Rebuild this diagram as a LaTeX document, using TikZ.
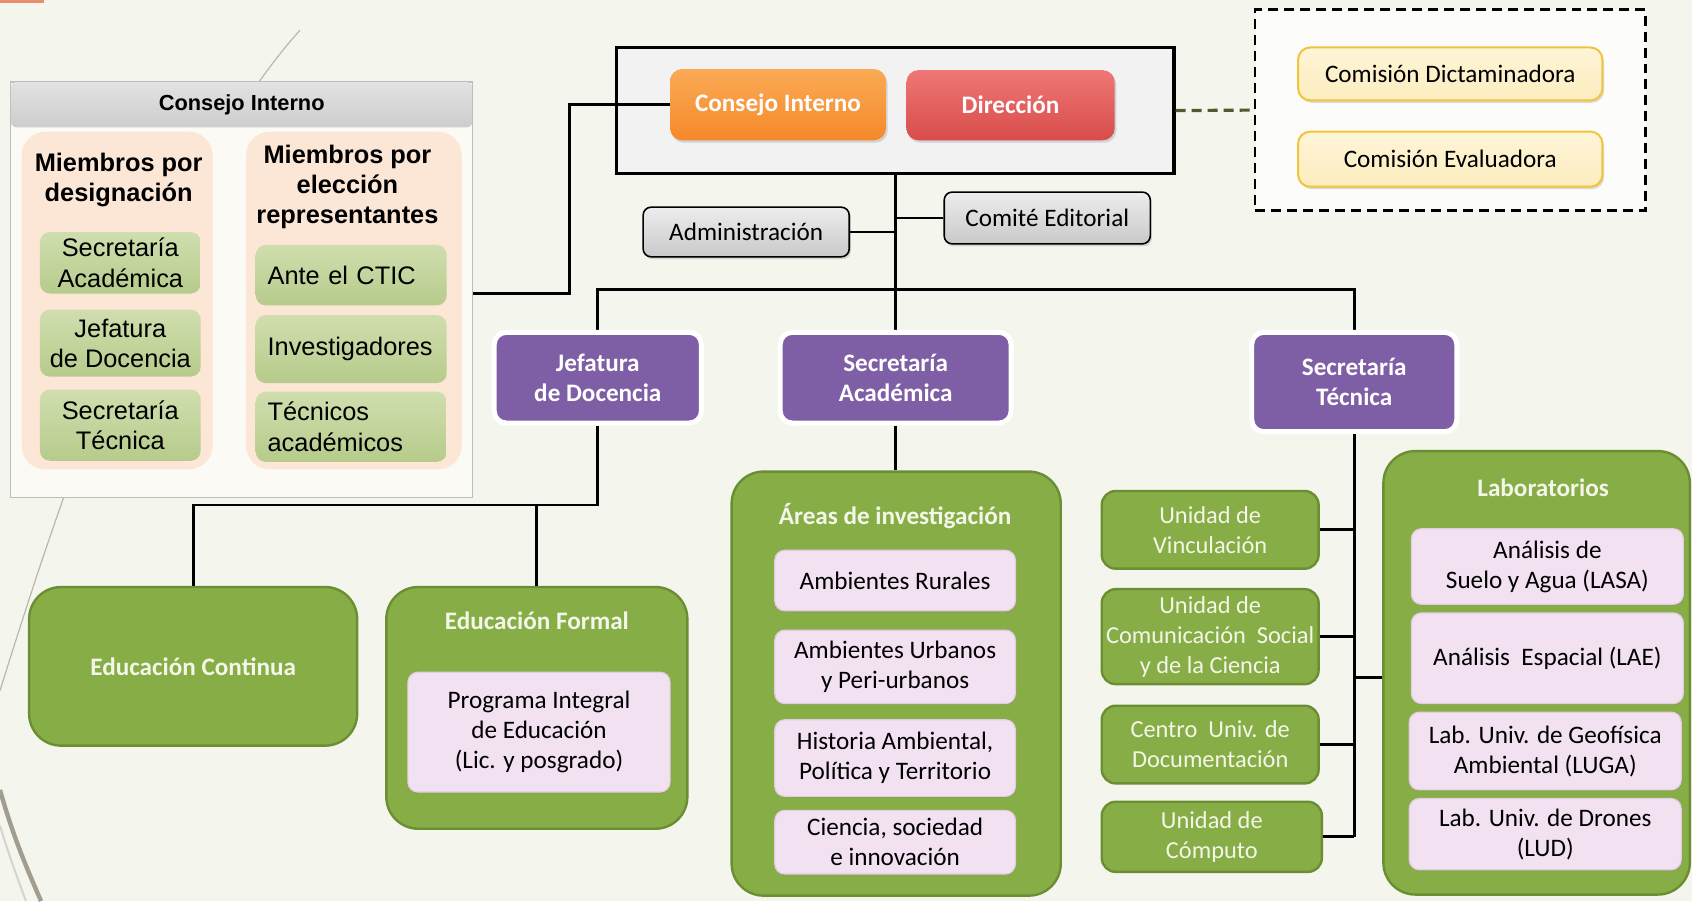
\documentclass[tikz,border=0pt]{standalone}
\usepackage{fontspec}
\setmainfont{Carlito}
\newfontfamily\arialf{Liberation Sans}
\usetikzlibrary{shadows}
\definecolor{bgc}{HTML}{F4F6EE}
\definecolor{framef}{HTML}{F2F2F2}
\definecolor{orgT}{HTML}{FBAA55}
\definecolor{orgB}{HTML}{F5892A}
\definecolor{redT}{HTML}{EE7775}
\definecolor{redB}{HTML}{D84C4A}
\definecolor{grayT}{HTML}{EDEDED}
\definecolor{grayB}{HTML}{C9C9C9}
\definecolor{comF}{HTML}{FDEDBE}
\definecolor{comD}{HTML}{F2C43A}
\definecolor{purp}{HTML}{7E5FA6}
\definecolor{grn}{HTML}{87AD47}
\definecolor{grnD}{HTML}{6C8E33}
\definecolor{pinkF}{HTML}{F2E1F1}
\definecolor{pinkD}{HTML}{E3CDE1}
\definecolor{panF}{HTML}{FBFAF4}
\definecolor{panD}{HTML}{BDBDBD}
\definecolor{hdrT}{HTML}{E2E2E2}
\definecolor{hdrB}{HTML}{CDCDCD}
\definecolor{peach}{HTML}{FCE6D6}
\definecolor{pgT}{HTML}{D0DEAE}
\definecolor{pgB}{HTML}{B6CB8B}
\definecolor{lightT}{HTML}{F4F6E8}
\definecolor{dashc}{HTML}{4F5A2E}
\definecolor{arcc}{HTML}{A39D90}
\definecolor{salmon}{HTML}{E58F6F}
\begin{document}
\begin{tikzpicture}[x=0.54pt,y=-0.54pt,
  wh/.style 2 args={minimum width=#1*0.54pt, minimum height=#2*0.54pt},
  base/.style={inner sep=0pt, align=center, font=\fontsize{12.6}{15}\selectfont},
  conn/.style={draw=black, line width=1.4pt},
  shad/.style={drop shadow={shadow xshift=0.8pt, shadow yshift=-1.2pt, opacity=0.28}},
  graybox/.style={base, rounded corners=4pt, draw=black, line width=0.8pt, top color=grayT, bottom color=grayB, shad},
  topbox/.style={base, rounded corners=6pt, text=white, font=\bfseries\fontsize{12.6}{15}\selectfont, shad},
  combox/.style={base, rounded corners=6pt, draw=comD, line width=1pt, top color=comF!60!white, bottom color=comF, shad},
  purpbox/.style={base, rounded corners=6pt, fill=purp, draw=white, line width=2.5pt, text=white, font=\bfseries\fontsize{12.6}{15}\selectfont, drop shadow={shadow xshift=0.6pt, shadow yshift=-1pt, opacity=0.25}},
  bigbox/.style={base, rounded corners=16pt, fill=grn, draw=grnD, line width=1.2pt},
  unitbox/.style={base, rounded corners=7pt, fill=grn, draw=grnD, line width=1.2pt, text=lightT, font=\fontsize{12.2}{15}\selectfont},
  gtitle/.style={base, text=lightT, font=\bfseries\fontsize{12.6}{15}\selectfont},
  pinkbox/.style={base, rounded corners=5pt, fill=pinkF, draw=pinkD, line width=0.6pt, drop shadow={shadow xshift=0.5pt, shadow yshift=-0.8pt, opacity=0.2}},
  pfont/.style={font=\arialf\fontsize{12.7}{15.1}\selectfont},
  pbox/.style={base, pfont, rounded corners=5pt, top color=pgT, bottom color=pgB},
  ptitle/.style={base, font=\arialf\bfseries\fontsize{12.7}{15.1}\selectfont}
]
\useasboundingbox (0,0) rectangle (1568,835);
\fill[bgc] (0,0) rectangle (1568,835);
% decorative theme lines
\fill[salmon] (0,0) rectangle (41,2.5);
\draw[arcc!75, line width=0.6pt] (278,28) .. controls (150,170) and (50,480) .. (0,640);
\draw[arcc, line width=2.2pt] (0,732) .. controls (12,775) and (25,805) .. (38,835);
\draw[arcc!45, line width=1pt] (0,765) .. controls (8,792) and (16,813) .. (24,835);

% ===== Consejo Interno panel =====
\node[base, wh={428}{385}, fill=panF, draw=panD, line width=0.6pt] (ci) at (224,268.5) {};
\node[base, wh={428}{42}, top color=hdrT, bottom color=hdrB, rounded corners=3pt, font=\arialf\bfseries\fontsize{10.9}{13}\selectfont] (cih) at (224,97) {Consejo Interno};
\node[base, wh={177}{313}, fill=peach, rounded corners=12pt] (colL) at (108.5,278.5) {};
\node[base, wh={200}{313}, fill=peach, rounded corners=12pt] (colR) at (328,278.5) {};
\node[ptitle] (ttlL) at (110,167) {Miembros por\\designación};
\node[ptitle] (ttlR) at (322,173) {Miembros por\\elección\\representantes};
\node[pbox, wh={149}{57}] (pl1) at (111.5,243.5) {Secretaría\\Académica};
\node[pbox, wh={149}{62}] (pl2) at (111.5,318) {Jefatura\\de Docencia};
\node[pbox, wh={149}{66}] (pl3) at (111.5,394) {Secretaría\\Técnica};
\node[pbox, wh={177}{56}, text width=155*0.54pt, align=left] (pr1) at (325.5,255) {Ante el CTIC};
\node[pbox, wh={177}{63}, text width=155*0.54pt, align=left] (pr2) at (325.5,323.5) {Investigadores};
\node[pbox, wh={177}{65}, text width=155*0.54pt, align=left] (pr3) at (325.5,395.5) {Técnicos\\académicos};

% ===== connector layer =====
\coordinate (ciK) at (528,272);
\coordinate (bus) at (829.5,268);
\coordinate (jdK) at (555,468);

% top frame
\node[base, wh={517}{117}, fill=framef, draw=black, line width=1.6pt] (top) at (829.5,102.5) {};
\node[base, wh={362}{186}, fill=white!70!bgc, draw=black, line width=1.3pt, dash pattern=on 5pt off 3pt] (comm) at (1344,102) {};

% connectors (drawn before boxes)
\draw[conn] (ci.east |- ciK) -- (ciK) |- (621,97);
\draw[conn] (top.south) -- (top.south |- 0,308);
\draw[conn] (554,308) |- (bus) -| (1255,308);
\draw[line width=1.6pt, draw=dashc, dash pattern=on 5pt off 3pt] (top.east) -- (comm.west);

\node[topbox, wh={200}{66}, top color=orgT, bottom color=orgB] (cons) at (721,97) {Consejo Interno};
\node[topbox, wh={193}{65}, top color=redT, bottom color=redB] (dir) at (936.5,97.5) {Dirección};
\draw[conn] (ciK |- cons.west) -- (cons.west);

\node[graybox, wh={191}{46}] (adm) at (691.5,215) {Administración};
\node[graybox, wh={191}{48}] (ced) at (970.5,202) {Comité Editorial};
\draw[conn] (adm.east) -- (adm.east -| top.south);
\draw[conn] (ced.west) -- (ced.west -| top.south);

\node[combox, wh={282}{49}] (cd) at (1344,68.5) {Comisión Dictaminadora};
\node[combox, wh={282}{51}] (cev) at (1344,147.5) {Comisión Evaluadora};

% purple heads
\node[purpbox, wh={192}{84}] (jd) at (554,350) {Jefatura\\de Docencia};
\node[purpbox, wh={214}{84}] (sa) at (830,350) {Secretaría\\Académica};
\node[purpbox, wh={190}{92}] (st) at (1255,354) {Secretaría\\Técnica};

% education
\node[bigbox, wh={304}{147}] (ec) at (179,617.5) {};
\node[gtitle] (ect) at (179,617.5) {Educación Continua};
\node[bigbox, wh={279}{224}] (ef) at (497.5,656) {};
\node[gtitle] (eft) at (497.5,575) {Educación Formal};
\node[pinkbox, wh={243}{111}] (pie) at (499.5,678.5) {Programa Integral\\de Educación\\(Lic. y posgrado)};
\draw[conn] (jd.south) -- (jd.south |- jdK) -| (ec.north);
\draw[conn] (ef.north) -- (ef.north |- jdK);

% areas
\node[bigbox, wh={305}{393}] (ai) at (830.5,633.5) {};
\draw[conn] (sa.south) -- (sa.south |- ai.north);
\node[gtitle] (ait) at (829.5,478) {Áreas de investigación};
\node[pinkbox, wh={223}{56}] (a1) at (829.5,538) {Ambientes Rurales};
\node[pinkbox, wh={223}{68}] (a2) at (829.5,618) {Ambientes Urbanos\\y Peri-urbanos};
\node[pinkbox, wh={223}{71}] (a3) at (829.5,702.5) {Historia Ambiental,\\Política y Territorio};
\node[pinkbox, wh={223}{59}] (a4) at (829.5,780.5) {Ciencia, sociedad\\e innovación};

% units
\node[unitbox, wh={201}{72}] (uv) at (1121.5,491) {Unidad de\\Vinculación};
\node[unitbox, wh={201}{88}] (ucs) at (1121.5,590) {Unidad de\\Comunicación\ \ Social\\y de la Ciencia};
\node[unitbox, wh={201}{72}] (cud) at (1121.5,690) {Centro\ \ Univ. de\\Documentación};
\node[unitbox, wh={204}{65}] (uc) at (1123,775.5) {Unidad de\\Cómputo};

% labs
\node[bigbox, wh={284}{411}] (lab) at (1424,623.5) {};
\node[gtitle] (labt) at (1430,452) {Laboratorios};
\node[pinkbox, wh={252}{70}] (l1) at (1434,525) {Análisis de\\Suelo y Agua (LASA)};
\node[pinkbox, wh={252}{84}] (l2) at (1434,610) {Análisis\ \ Espacial (LAE)};
\node[pinkbox, wh={252}{72}] (l3) at (1432,696) {Lab. Univ. de Geofísica\\Ambiental (LUGA)};
\node[pinkbox, wh={252}{66}] (l4) at (1432,773) {Lab. Univ. de Drones\\(LUD)};

% Secretaría Técnica connectors
\draw[conn] (st.south) -- (st.south |- uc.east);
\draw[conn] (uv.east) -- (uv.east -| st.south);
\draw[conn] (ucs.east) -- (ucs.east -| st.south);
\draw[conn] (cud.east) -- (cud.east -| st.south);
\draw[conn] (uc.east) -- (uc.east -| st.south);
\draw[conn] (lab.west |- 0,628) -- (st.south |- 0,628);
\end{tikzpicture}
\end{document}
